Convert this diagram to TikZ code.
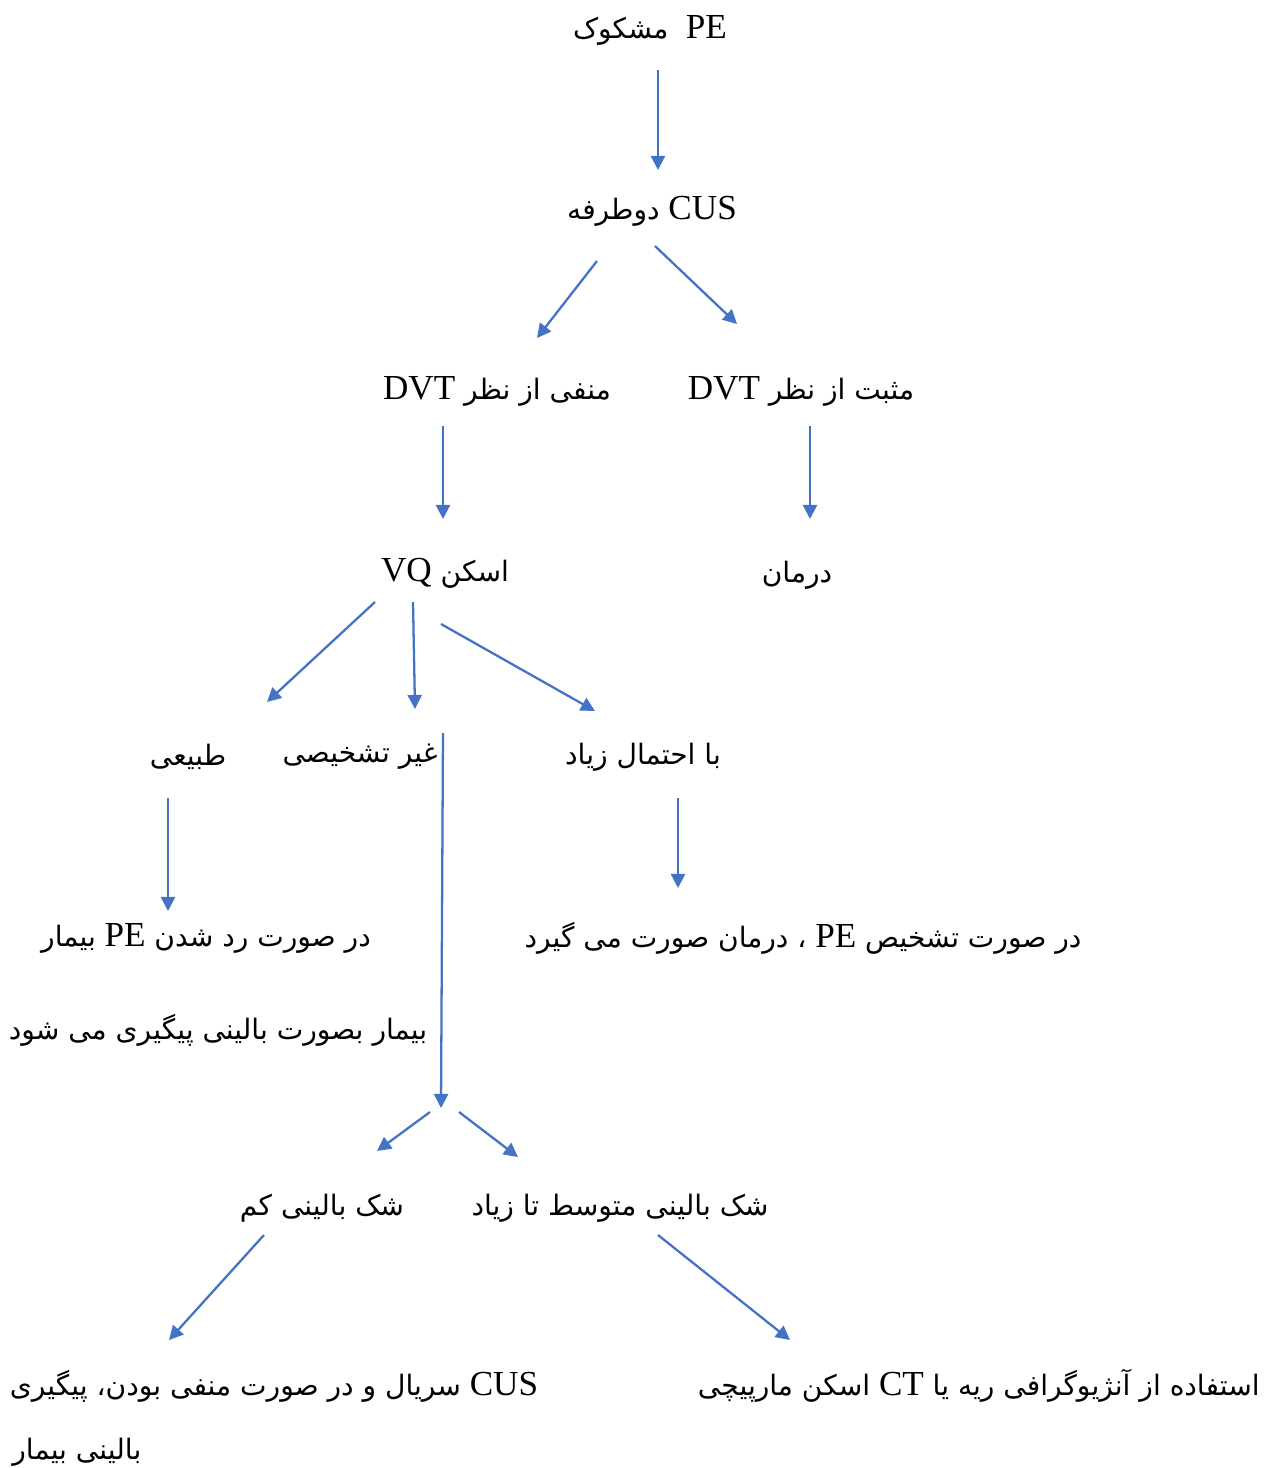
\documentclass[tikz,border=0pt]{standalone}
\usepackage{fontspec}
\setmainfont{Liberation Serif}
\newfontfamily\farsi[Script=Arabic,Scale=0.8]{DejaVu Sans}
\TeXXeTstate=1
\usetikzlibrary{arrows.meta}
\definecolor{arrblue}{RGB}{68,114,196}
\newcommand{\fa}[1]{{\farsi #1}}
\newcommand{\en}[1]{\beginL #1\endL{}}
\tikzset{
  lbl/.style={font=\fontsize{20}{24}\selectfont, inner sep=0pt},
  arr/.style={arrblue, line width=1.3pt, -{Triangle[width=8pt,length=8pt]}}
}

\begin{document}
\begin{tikzpicture}[x=0.02cm,y=-0.02cm]
    \useasboundingbox (0,0) rectangle (1269,1468);
    % labels
    \node[lbl] (pe)     at (650,30)  {\beginR\en{PE}\ \ \fa{مشکوک}\endR};
    \node[lbl] (cus)    at (652,211) {\beginR\en{CUS} \fa{دوطرفه}\endR};
    \node[lbl] (neg)    at (497,391) {\beginR\fa{منفی از نظر} \en{DVT}\endR};
    \node[lbl] (pos)    at (801,391) {\beginR\fa{مثبت از نظر} \en{DVT}\endR};
    \node[lbl] (vq)     at (445,573) {\beginR\fa{اسکن} \en{VQ}\endR};
    \node[lbl] (treat)  at (797,575) {\beginR\fa{درمان}\endR};
    \node[lbl] (normal) at (188,757) {\beginR\fa{طبیعی}\endR};
    \node[lbl] (nondx)  at (360,757) {\beginR\fa{غیر تشخیصی}\endR};
    \node[lbl] (high)   at (643,757) {\beginR\fa{با احتمال زیاد}\endR};
    \node[lbl] (rule)   at (206,938) {\beginR\fa{در صورت رد شدن} \en{PE} \fa{بیمار}\endR};
    \node[lbl] (follow) at (218,1030) {\beginR\fa{بیمار بصورت بالینی پیگیری می شود}\endR};
    \node[lbl] (dx)     at (803,938) {\beginR\fa{در صورت تشخیص} \en{PE} \fa{، درمان صورت می گیرد}\endR};
    \node[lbl] (low)    at (322,1208) {\beginR\fa{شک بالینی کم}\endR};
    \node[lbl] (mid)    at (620,1208) {\beginR\fa{شک بالینی متوسط تا زیاد}\endR};
    \node[lbl] (serial) at (274,1386) {\beginR\en{CUS} \fa{سریال و در صورت منفی بودن، پیگیری}\endR};
    \node[lbl,anchor=west] (serial2) at (12,1452) {\beginR\fa{بالینی بیمار}\endR};
    \node[lbl,anchor=east] (angio)  at (1260,1386) {\beginR\fa{استفاده از آنژیوگرافی ریه یا} \en{CT} \fa{اسکن مارپیچی}\endR};
    % arrow ends
    \coordinate (a1s) at (658,70);   \coordinate (a1e) at (658,170);
    \coordinate (a2s) at (597,261);  \coordinate (a2e) at (537,338);
    \coordinate (a3s) at (655,246);  \coordinate (a3e) at (737,324);
    \coordinate (a4s) at (443,426);  \coordinate (a4e) at (443,519);
    \coordinate (a5s) at (810,426);  \coordinate (a5e) at (810,519);
    \coordinate (a6s) at (375,602);  \coordinate (a6e) at (267,702);
    \coordinate (a7s) at (413,602);  \coordinate (a7e) at (415,709);
    \coordinate (a8s) at (441,624);  \coordinate (a8e) at (595,711);
    \coordinate (a9s) at (443,733);  \coordinate (a9e) at (441,1108);
    \coordinate (b1s) at (168,798);  \coordinate (b1e) at (168,911);
    \coordinate (b2s) at (678,798);  \coordinate (b2e) at (678,888);
    \coordinate (b3s) at (430,1112); \coordinate (b3e) at (377,1151);
    \coordinate (b4s) at (459,1112); \coordinate (b4e) at (518,1157);
    \coordinate (b5s) at (264,1235); \coordinate (b5e) at (169,1340);
    \coordinate (b6s) at (658,1235); \coordinate (b6e) at (790,1340);
    \begin{scope}[arr]
      \draw (a1s) -- (a1e);
      \draw (a2s) -- (a2e);
      \draw (a3s) -- (a3e);
      \draw (a4s) -- (a4e);
      \draw (a5s) -- (a5e);
      \draw (a6s) -- (a6e);
      \draw (a7s) -- (a7e);
      \draw (a8s) -- (a8e);
      \draw (a9s) -- (a9e);
      \draw (b1s) -- (b1e);
      \draw (b2s) -- (b2e);
      \draw (b3s) -- (b3e);
      \draw (b4s) -- (b4e);
      \draw (b5s) -- (b5e);
      \draw (b6s) -- (b6e);
    \end{scope}
  \end{tikzpicture}
\end{document}
